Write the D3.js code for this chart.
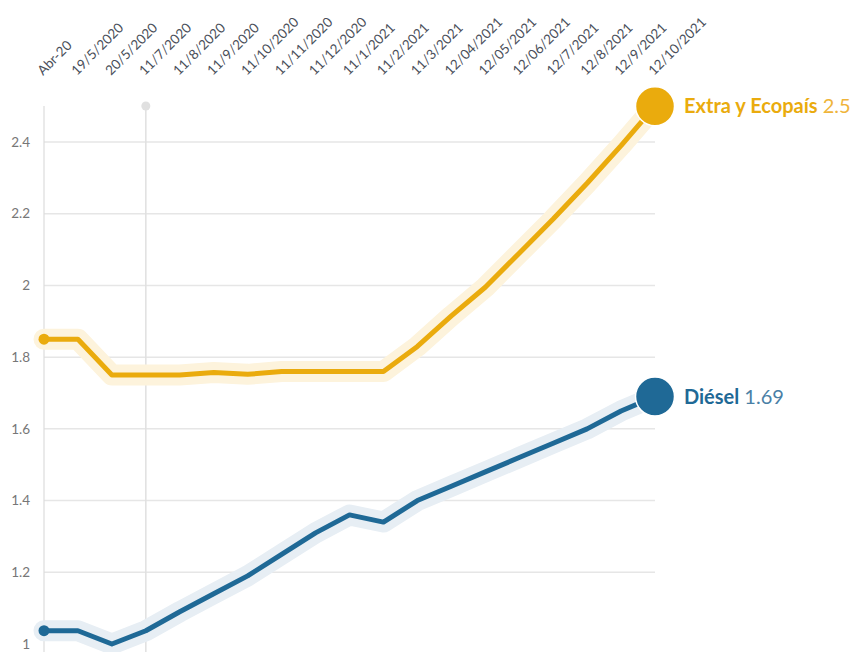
<!DOCTYPE html>
<html>
<head>
<meta charset="utf-8">
<script src="https://cdn.jsdelivr.net/npm/d3@7"></script>
<style>
  body { margin: 0; background: #fff; font-family: Lato, "Open Sans", sans-serif; }
  .chart svg { display: block; }
</style>
</head>
<body>
<div class="chart"></div>
<script>
var w = 853;
var h = 652;

var dates = ["Abr-20", "19/5/2020", "20/5/2020", "11/7/2020", "11/8/2020", "11/9/2020",
             "11/10/2020", "11/11/2020", "11/12/2020", "11/1/2021", "11/2/2021", "11/3/2021",
             "12/04/2021", "12/05/2021", "12/06/2021", "12/7/2021", "12/8/2021", "12/9/2021",
             "12/10/2021"];
var extra = [1.85, 1.85, 1.75, 1.75, 1.75, 1.757, 1.752, 1.76, 1.76, 1.76, 1.76, 1.83,
             1.915, 1.995, 2.09, 2.185, 2.285, 2.39, 2.5];
var diesel = [1.037, 1.037, 1.0, 1.037, 1.09, 1.14, 1.19, 1.25, 1.31, 1.36, 1.34, 1.40,
              1.44, 1.48, 1.52, 1.56, 1.60, 1.65, 1.69];
var yTicks = [1, 1.2, 1.4, 1.6, 1.8, 2, 2.2, 2.4];
var seriesNames = ["Extra y Ecopaís", "Diésel"];
var markerDate = "11/7/2020";

var series = [
  {name: seriesNames[0], values: extra, color: "#eaab0d", halo: "#fdf3dc", valueColor: "#efb43a"},
  {name: seriesNames[1], values: diesel, color: "#1f6996", halo: "#e7eef4", valueColor: "#4a7fa6"}
];

var svg = d3.select(".chart").append("svg")
    .attr("width", w)
    .attr("height", h);

var x = d3.scalePoint().domain(dates).range([44, 655]);
var y = d3.scaleLinear().domain([1, 2.4]).range([644, 142]);

// horizontal grid
svg.append("g")
    .selectAll("line")
    .data(yTicks.slice(1))
    .enter()
    .append("line")
    .attr("x1", 44)
    .attr("x2", 655)
    .attr("y1", function(d) { return y(d); })
    .attr("y2", function(d) { return y(d); })
    .attr("stroke", "#e6e6e6")
    .attr("stroke-width", 1.5);

// left axis line
svg.append("line")
    .attr("x1", x(dates[0])).attr("x2", x(dates[0]))
    .attr("y1", 106).attr("y2", h)
    .attr("stroke", "#dcdcdc")
    .attr("stroke-width", 1.2);

// marker line
svg.append("line")
    .attr("x1", x(markerDate)).attr("x2", x(markerDate))
    .attr("y1", 106).attr("y2", h)
    .attr("stroke", "#e0e0e0")
    .attr("stroke-width", 1.5);
svg.append("circle")
    .attr("cx", x(markerDate)).attr("cy", 106).attr("r", 4.5)
    .attr("fill", "#e0e0e0");

// y tick labels
svg.append("g")
    .selectAll("text")
    .data(yTicks)
    .enter()
    .append("text")
    .attr("x", 30)
    .attr("y", function(d) { return y(d); })
    .attr("dy", "0.35em")
    .attr("text-anchor", "end")
    .attr("font-size", "13.5px")
    .attr("fill", "#777")
    .text(function(d) { return d; });

// x labels, rotated
svg.append("g")
    .selectAll("text")
    .data(dates)
    .enter()
    .append("text")
    .attr("transform", function(d) { return "translate(" + (x(d) - 1) + ",76) rotate(-45)"; })
    .attr("font-size", "13.5px")
    .attr("fill", "#4a4f5a")
    .text(function(d) { return d; });

var line = d3.line()
    .x(function(d, i) { return x(dates[i]); })
    .y(function(d) { return y(d); });

series.forEach(function(s) {
    svg.append("path")
        .attr("d", line(s.values))
        .attr("fill", "none")
        .attr("stroke", s.halo)
        .attr("stroke-width", 21)
        .attr("stroke-linejoin", "round")
        .attr("stroke-linecap", "round");
});

series.forEach(function(s) {
    svg.append("path")
        .attr("d", line(s.values))
        .attr("fill", "none")
        .attr("stroke", s.color)
        .attr("stroke-width", 5)
        .attr("stroke-linejoin", "round");

    svg.append("circle")
        .attr("cx", x(dates[0]))
        .attr("cy", y(s.values[0]))
        .attr("r", 5.5)
        .attr("fill", s.color);

    var last = s.values[s.values.length - 1];
    svg.append("circle")
        .attr("cx", x(dates[dates.length - 1]))
        .attr("cy", y(last))
        .attr("r", 19.5)
        .attr("fill", s.color)
        .attr("stroke", "#fff")
        .attr("stroke-width", 1.5);

    var label = svg.append("text")
        .attr("x", 684)
        .attr("y", y(last))
        .attr("dy", "0.35em")
        .attr("font-size", "20px");
    label.append("tspan")
        .attr("font-weight", "bold")
        .attr("fill", s.color)
        .text(s.name);
    label.append("tspan")
        .attr("fill", s.valueColor)
        .text(" " + last);
});
</script>
</body>
</html>
